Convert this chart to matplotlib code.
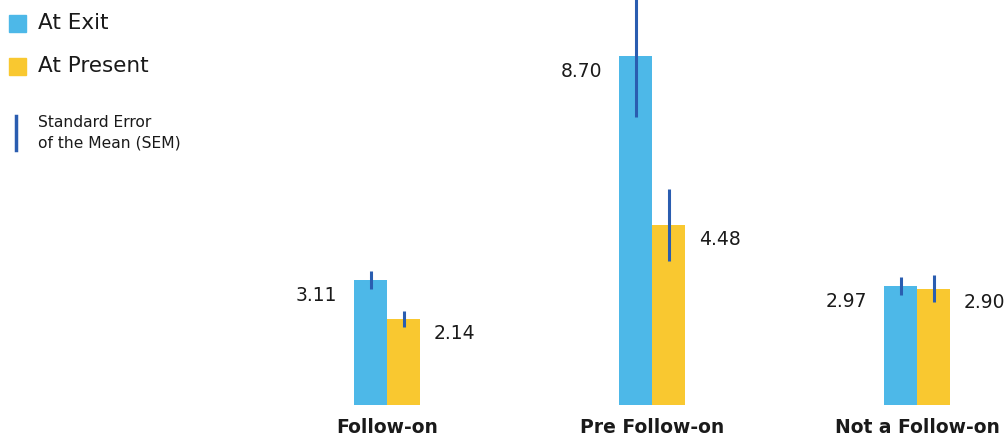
import matplotlib.pyplot as plt
import numpy as np
from matplotlib.patches import Rectangle
from matplotlib.lines import Line2D

categories = ["Follow-on", "Pre Follow-on", "Not a Follow-on"]
at_exit = [3.11, 8.70, 2.97]
at_present = [2.14, 4.48, 2.90]
sem_exit = [0.22, 1.52, 0.22]
sem_present = [0.20, 0.90, 0.34]

blue = "#4db8e8"
yellow = "#f9c830"
err_col = "#2a5db0"
txt_col = "#1a1a1a"

plt.rcParams["font.family"] = ["DejaVu Sans"]

fig = plt.figure(figsize=(10.05, 4.38), dpi=100)
ax = fig.add_axes([0, 0, 1, 1])

x = np.arange(len(categories))
w = 0.1245

ax.bar(x - w / 2, at_exit, w, color=blue)
ax.bar(x + w / 2, at_present, w, color=yellow)
ax.errorbar(x - w / 2, at_exit, yerr=sem_exit, fmt="none", ecolor=err_col, elinewidth=2.2, capsize=0)
ax.errorbar(x + w / 2, at_present, yerr=sem_present, fmt="none", ecolor=err_col, elinewidth=2.2, capsize=0)

# value labels: left of blue bar, right of yellow bar
for i in range(len(categories)):
    ax.annotate(f"{at_exit[i]:.2f}", (x[i] - w, at_exit[i]), xytext=(-12, -11),
                textcoords="offset points", ha="right", va="center", fontsize=13.5, color=txt_col)
    ax.annotate(f"{at_present[i]:.2f}", (x[i] + w, at_present[i]), xytext=(10, -10),
                textcoords="offset points", ha="left", va="center", fontsize=13.5, color=txt_col)
    ax.annotate(categories[i], (x[i], 0), xytext=(0, -16), textcoords="offset points",
                ha="center", va="center", fontsize=13.5, fontweight="bold", color=txt_col)

ax.set_xlim(-1.4604, 2.332)
ax.set_ylim(-0.823, 10.10)
ax.axis("off")

# legend drawn by hand in figure pixels
H = 438
def fy(py):
    return (H - py) / H

fig.patches.append(Rectangle((9 / 1005, fy(32)), 17 / 1005, 17 / H, color=blue, transform=fig.transFigure))
fig.patches.append(Rectangle((9 / 1005, fy(75)), 17 / 1005, 17 / H, color=yellow, transform=fig.transFigure))
fig.lines.append(Line2D([16 / 1005, 16 / 1005], [fy(116), fy(150)], color=err_col, lw=2.5, transform=fig.transFigure))
fig.text(38 / 1005, fy(23), "At Exit", fontsize=15.5, va="center", ha="left", color=txt_col)
fig.text(38 / 1005, fy(66), "At Present", fontsize=15.5, va="center", ha="left", color=txt_col)
fig.text(38 / 1005, fy(133), "Standard Error\nof the Mean (SEM)", fontsize=11.2, va="center", ha="left",
         color=txt_col, linespacing=1.45)

fig.savefig("out.png", dpi=100)
